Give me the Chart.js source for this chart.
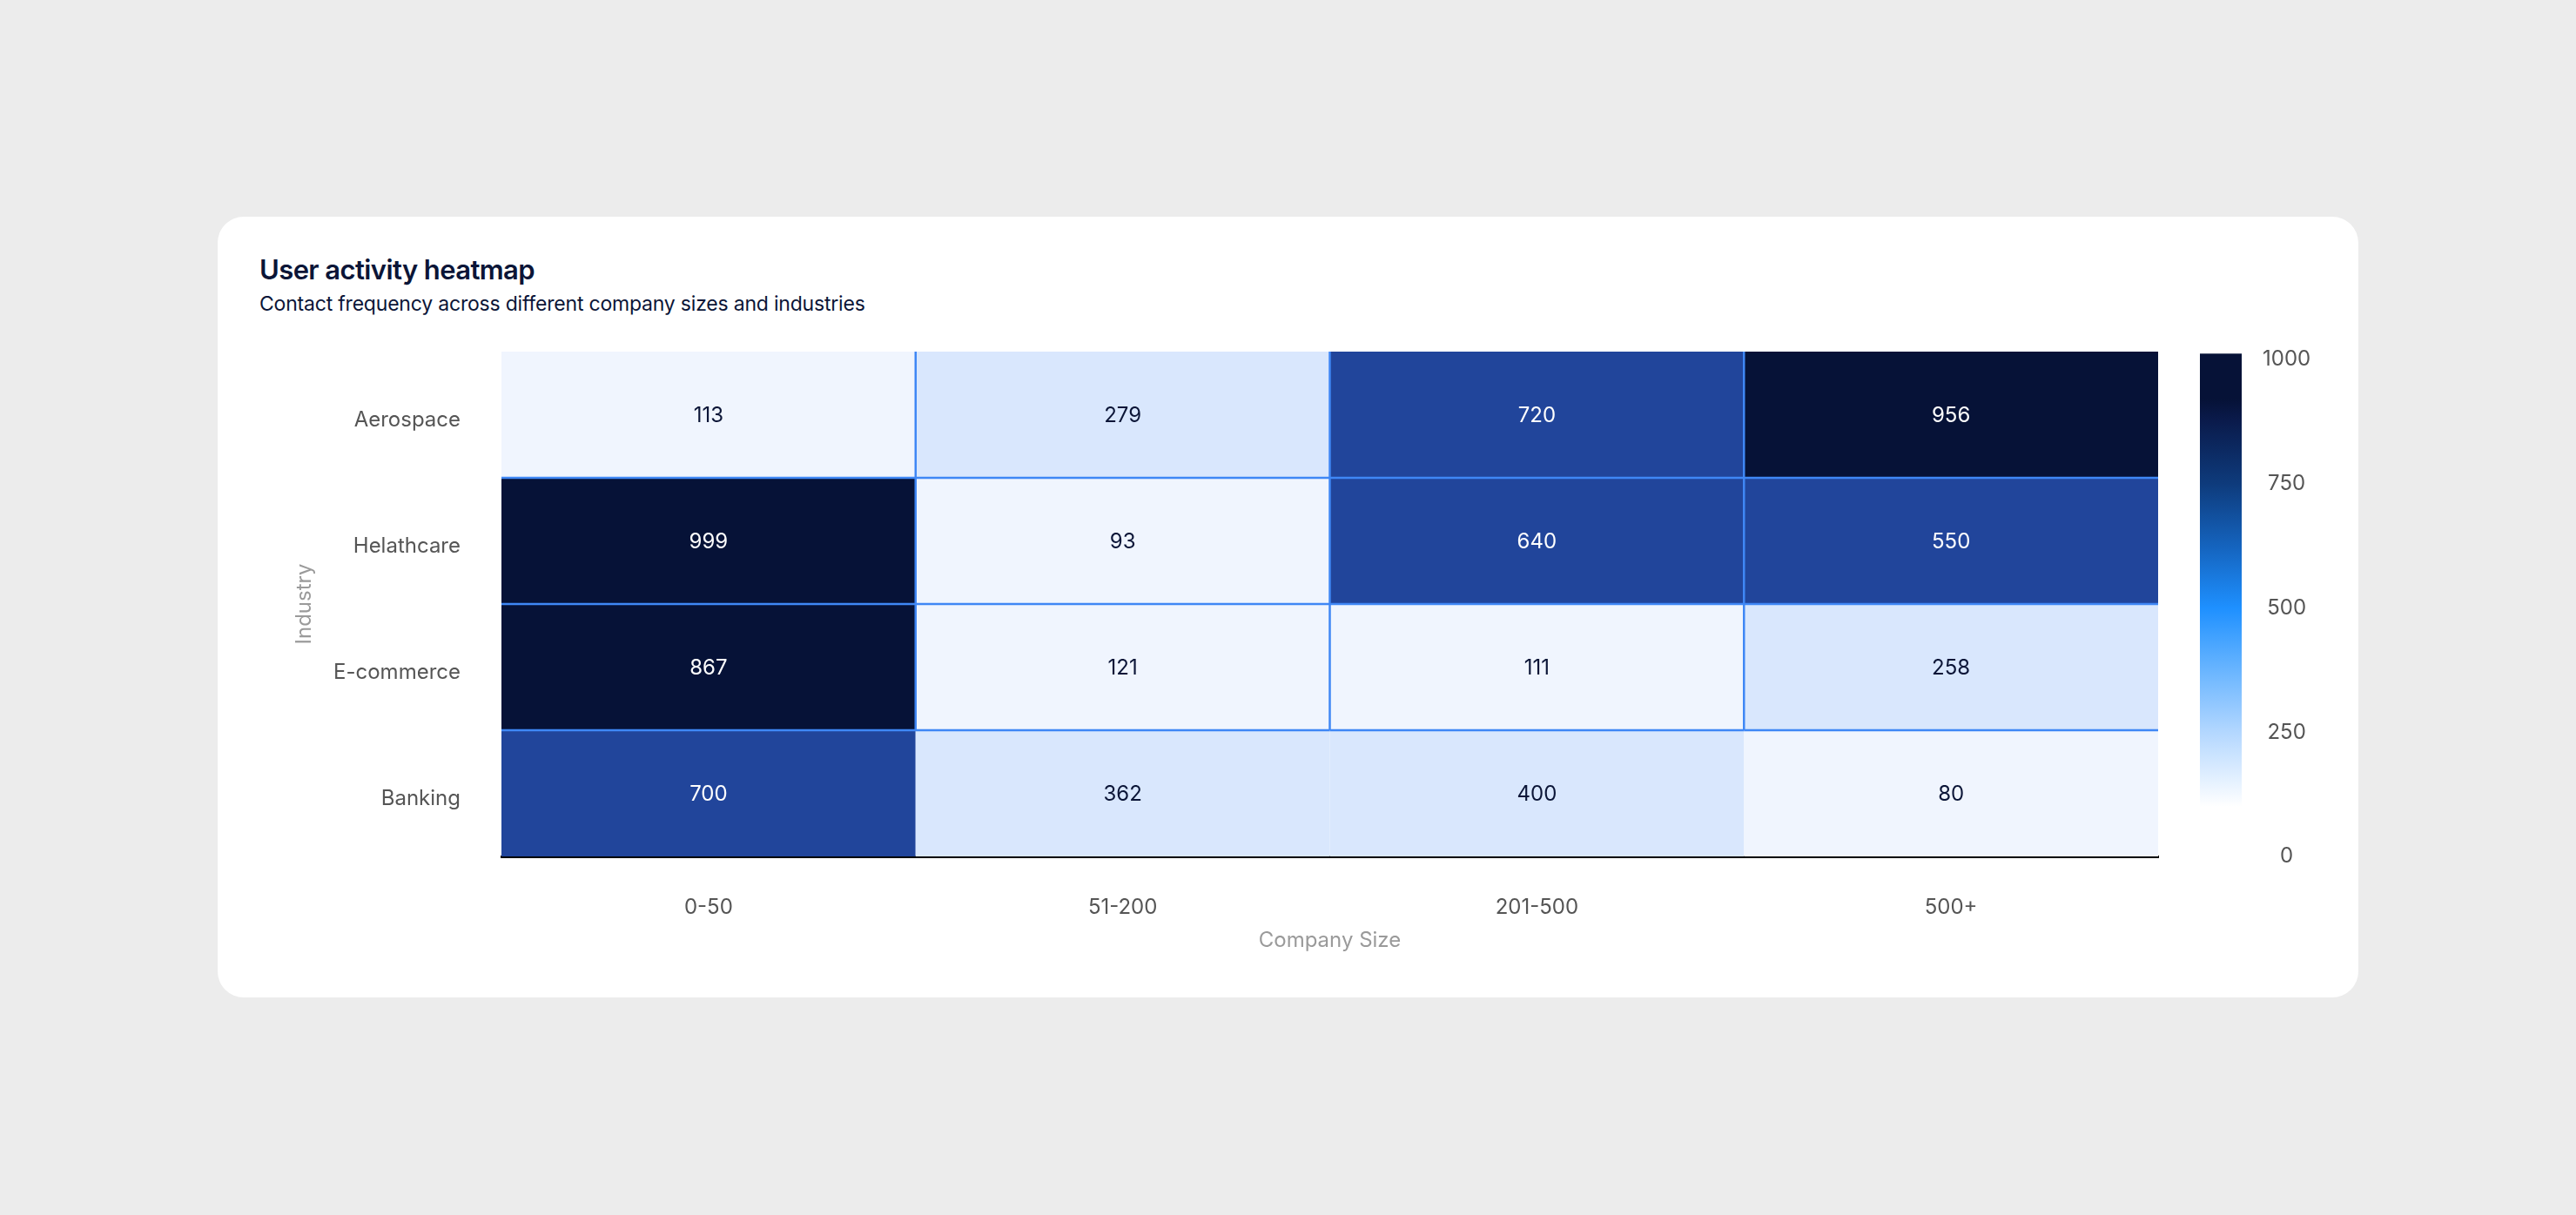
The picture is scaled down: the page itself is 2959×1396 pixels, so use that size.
<!DOCTYPE html>
<html>
<head>
<meta charset="utf-8">
<title>User activity heatmap</title>
<script src="https://cdn.jsdelivr.net/npm/chart.js@4.4.1/dist/chart.umd.min.js"></script>
<style>
  html, body { margin: 0; background: #ececec; }
  body { width: 2959px; height: 1396px; position: relative; overflow: hidden; font-family: Inter, 'Noto Sans', sans-serif; }
  .card { position: absolute; left: 250px; top: 249px; width: 2459px; height: 897px; background: #fff; border-radius: 30px; }
  .title { position: absolute; left: 48px; top: 41px; line-height: 40px; font-size: 31px; font-weight: 600; color: #0b1537; letter-spacing: -0.6px; white-space: nowrap; }
  .sub { position: absolute; left: 48px; top: 85px; line-height: 30px; font-size: 23px; font-weight: 400; color: #0b1537; letter-spacing: -0.2px; white-space: nowrap; }
  canvas { position: absolute; left: 0; top: 0; }
</style>
</head>
<body>
<div class="card">
  <div class="title">User activity heatmap</div>
  <div class="sub">Contact frequency across different company sizes and industries</div>
  <canvas id="heat" width="2459" height="897"></canvas>
</div>
<script>
// ── data ─────────────────────────────────────────────
const sizes = ['0-50', '51-200', '201-500', '500+'];
const industries = ['Aerospace', 'Helathcare', 'E-commerce', 'Banking'];
const aerospace  = [113, 279, 720, 956];
const healthcare = [999,  93, 640, 550];
const ecommerce  = [867, 121, 111, 258];
const banking    = [700, 362, 400,  80];
const rows = [aerospace, healthcare, ecommerce, banking];
const scaleTicks = [0, 250, 500, 750, 1000];

// ── colours ──────────────────────────────────────────
const INK = '#0b1537';
const EDGE = '#3f87f5';
function cellColor(v) {
  if (v >= 750) return '#061237';
  if (v >= 500) return '#21459b';
  if (v >= 250) return '#d9e7fd';
  return '#f0f5fe';
}
// colour bar stops (value -> colour)
const rampStops = [
  [0, '#ffffff'], [100, '#ffffff'], [250, '#b3d7ff'], [400, '#5aaeff'],
  [500, '#1e90ff'], [620, '#1565c0'], [750, '#0e3b7c'], [880, '#0a1a4a'],
  [920, '#061237'], [1016, '#061237']
];

const points = [];
rows.forEach((r, i) => r.forEach((v, j) => points.push({ x: sizes[j], y: industries[i], v })));

// ── plugin: draws cells, values, edges and the colour bar ──
const heatPlugin = {
  id: 'heat',
  beforeDatasetsDraw(chart) {
    const { ctx, scales: { x, y, cb } } = chart;
    const meta = chart.getDatasetMeta(0);
    const w = x.width / sizes.length;
    const h = y.height / industries.length;
    const data = chart.data.datasets[0].data;

    ctx.save();
    meta.data.forEach((pt, k) => {
      ctx.fillStyle = cellColor(data[k].v);
      ctx.fillRect(pt.x - w / 2, pt.y - h / 2, w, h);
    });
    // inner edges (not on the last row)
    ctx.strokeStyle = EDGE;
    ctx.lineWidth = 2.5;
    meta.data.forEach((pt, k) => {
      const i = Math.floor(k / sizes.length), j = k % sizes.length;
      if (i === industries.length - 1) return;
      ctx.beginPath();
      ctx.moveTo(pt.x - w / 2, pt.y + h / 2);
      ctx.lineTo(pt.x + w / 2, pt.y + h / 2);
      if (j < sizes.length - 1) {
        ctx.moveTo(pt.x + w / 2, pt.y - h / 2);
        ctx.lineTo(pt.x + w / 2, pt.y + h / 2);
      }
      ctx.stroke();
    });
    // values
    ctx.font = "400 24px Inter, 'Noto Sans', sans-serif";
    ctx.textAlign = 'center';
    ctx.textBaseline = 'middle';
    meta.data.forEach((pt, k) => {
      const v = data[k].v;
      ctx.fillStyle = v >= 500 ? '#ffffff' : INK;
      ctx.fillText(String(v), pt.x, pt.y + 1);
    });

    // colour bar
    const y0 = cb.getPixelForValue(0), y1 = cb.getPixelForValue(1012);
    const grad = ctx.createLinearGradient(0, y0, 0, cb.getPixelForValue(1016));
    rampStops.forEach(([v, c]) => grad.addColorStop(Math.min(1, v / 1016), c));
    ctx.fillStyle = grad;
    ctx.fillRect(cb.left + 48, y1, 48, y0 - y1);
    ctx.restore();
  }
};

Chart.defaults.font.family = "Inter, 'Noto Sans', sans-serif";
Chart.defaults.font.size = 24;
Chart.defaults.color = '#555555';

new Chart(document.getElementById('heat'), {
  type: 'scatter',
  data: {
    datasets: [{ data: points, pointRadius: 0, pointHoverRadius: 0 }]
  },
  plugins: [heatPlugin],
  options: {
    responsive: false,
    animation: false,
    layout: { padding: { left: 85, top: 155, right: 0, bottom: 51 } },
    plugins: { legend: { display: false }, tooltip: { enabled: false } },
    scales: {
      x: {
        type: 'category',
        labels: sizes,
        offset: true,
        position: 'bottom',
        z: 1,
        grid: { display: false },
        border: { display: true, color: '#000000', width: 3 },
        ticks: { padding: 36, color: '#555555', font: { size: 24 } },
        title: { display: true, text: 'Company Size', color: '#9a9a9a', font: { size: 24 }, padding: 0 },
        afterFit(s) { s.height = 111; }
      },
      y: {
        type: 'category',
        labels: industries,
        offset: true,
        position: 'left',
        grid: { display: false },
        border: { display: false },
        ticks: { padding: 39, labelOffset: 6, color: '#555555', font: { size: 24 } },
        title: { display: true, text: 'Industry', color: '#9a9a9a', font: { size: 24 }, padding: 0 },
        afterFit(s) { s.width = 241; }
      },
      cb: {
        type: 'linear',
        axis: 'y',
        position: 'right',
        min: 0,
        max: 1016,
        grid: { display: false },
        border: { display: false },
        ticks: {
          stepSize: 250, padding: 112, crossAlign: 'center', color: '#555555', font: { size: 24 },
          callback: v => String(v)
        },
        afterBuildTicks(s) { s.ticks = scaleTicks.map(v => ({ value: v })); },
        afterFit(s) { s.width = 230; }
      }
    }
  }
});
</script>
</body>
</html>
